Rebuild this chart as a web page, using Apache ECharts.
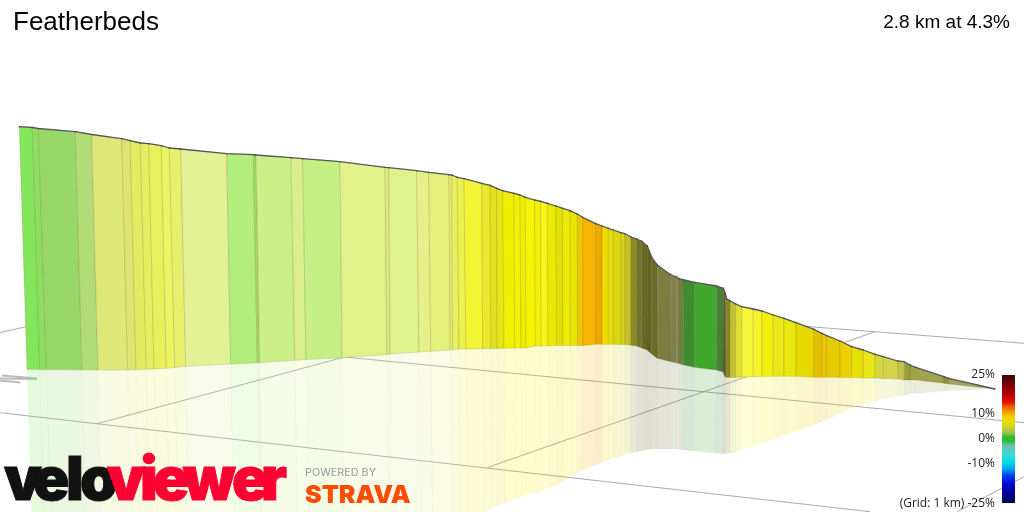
<!DOCTYPE html>
<html><head><meta charset="utf-8">
<style>html,body{margin:0;padding:0;background:#fff}#c{width:1024px;height:512px}</style>
<script src="https://cdn.jsdelivr.net/npm/echarts@6/dist/echarts.min.js"></script>
</head><body><div id="c"></div>
<script>
const topX=[19.3,32.3,38.3,75.3,91.7,121.7,130.3,140.3,148.7,161.3,169.3,180.7,226.7,253.3,256,291,302.7,340,385,388.7,416.7,428.7,449,451.7,457.3,464,481.7,490,496.7,502.7,514,520,525.3,534.7,540.7,547.3,556,562.7,570,577.3,582.7,595.7,602,608.3,613.3,621,625,631,636.7,641.7,647.3,651.7,657.3,670.3,676.7,679,684,694.7,716.7,723.3,725.3,726.7,730,735.7,741.7,753.3,762,773.3,784,796,814,821.7,826.7,840,851.7,863.3,875,883.3,897.7,904.3,910,915.7,944,948.7,995];
const topY=[126.7,127.5,128.5,131.7,134.5,138.7,140.7,143,143.7,145.7,148,149,153.7,154.7,155,157.7,158.7,161.7,167.3,167.7,170.7,172.3,174.7,175,177.3,178.7,183.3,185.3,188.3,190.7,193.3,195,197.3,200,201.3,203.3,206,208.3,210.7,214,217.3,223.7,226,228.3,230,232.7,233.7,237,239,241.3,246,257.3,265,274.5,277,278.7,280,282.3,286,288.3,293.3,299,300.7,304,306.7,309,311,315,318.3,322.7,329.3,333.3,335.7,341,346.7,350,354.3,356.7,361,361.7,365,367.3,376.7,378.3,389];
const baseX=[27,39.7,46.3,82,98,127.7,136,146.3,154,166.3,174.7,185.7,230.7,257.3,259.7,294.7,306,342,387,390,419,430.7,450.3,452.7,459,466,482.7,490.7,497.3,504,514.7,521,526,535.3,541.3,548,556.5,563,570.3,577.5,583,596,602,608.3,613.3,621,625,630.8,636.5,641.5,647,651.5,657,670,676.5,679,683.5,694.2,716.3,723,725,726.5,730,735.7,741.7,753.3,762,773.3,784,796,814,821.7,826.7,840,851.7,863.3,875,883.3,897.7,904.3,910,915.7,944,948.7,995];
const baseY=[369.3,369.5,369.6,369.8,370,370,369.5,369.2,369,368.3,367.5,366.3,364,362.8,362.5,360.3,359.5,357.7,354.5,354,352,351.3,350,349.5,349,349,348.7,348.5,348.5,348.3,348,348,348,346,346,345.7,345.5,345.5,345.5,345.5,345.5,344.3,344.3,344.3,344.3,344.5,344.5,345.3,346,348,350,354,358.3,361.5,363,363.6,365,367.3,370,372,376.7,377.5,377.5,377.5,377,376.7,376.5,376.3,376.3,376.3,377.3,377.3,377.3,377.4,377.5,378,378,378.5,379,380,380,380,383.3,384,389];
const mirrorY=[611,611,610,607,605,601,598,595,594,590,587,584,574,571,570,563,560,554,542,540,534,530,526,525,521,519,512,508,505,502,498,496,494,493,491,488,485,481,476,472,470,465,462,460,458,456,454,453,452,451,450,449,449,449,449,449.5,450,451,453,454,453.5,453.5,453.3,452,449,445.7,442.5,439,435,431,425,422,420,413,408,404,401,399,396,395,394,393.5,391,390.5,389];
const stripColors=['#84e65a','#8ce060','#98d868','#b2dc78','#dde878','#dfe470','#e2ec60','#e6ee62','#e8f05c','#eaf564','#e6f06c','#e2f096','#b2ee7a','#a0dc62','#cbf088','#daee90','#c6f084','#e2f28a','#dcec80','#e0f28c','#e6f088','#e4f07c','#e4ee6c','#e8f060','#ecf24c','#f2f434','#e8e82c','#dfe01e','#e6e614','#f0f000','#f0f200','#eeee00','#f6f400','#f2f008','#f6f618','#e8ea00','#e0e000','#ecec00','#e8e400','#ebc800','#f8b400','#eeaa00','#eedc00','#e8dc00','#d8d810','#d4d420','#c4c028','#8a8a28','#707428','#666a24','#5e6220','#6c6c28','#7a7e3e','#7e8050','#8a8a50','#6c8040','#3e8c30','#40a82c','#48803a','#585f2a','#6a6a24','#8a8a24','#c0c030','#e0e030','#f5f53a','#f4f428','#f0f00c','#e8e81a','#e8e810','#e6d800','#e4c000','#eec400','#e4cc00','#eed000','#e6e000','#e8e618','#d4d840','#d4d44c','#c4c44c','#9aa040','#a0a440','#9ea450','#8c9040','#a0a460'];
const gridLines=[[0,412.7,870,511.7],[0,332.7,26,326.7],[96,424,342,357.7],[487,467.7,875,331.7],[342,356.8,1024,422.7],[730,320.5,1024,343.3],[957,511.7,1024,476.7]];
const compassLines=[[2,375.5,37,378.5],[0,378.5,37,379],[0,380.5,20,382.5]];
const scaleLabels=['25%','10%','0%','-10%','(Grid: 1 km) -25%'];
const scaleLabelY=[375,414,439,464,504];
const scaleStops=[[0,'#3c0a0a'],[0.08,'#7a0000'],[0.145,'#b00000'],[0.21,'#e01000'],[0.25,'#f26000'],[0.29,'#f0a000'],[0.325,'#f0d000'],[0.365,'#e8e000'],[0.42,'#c8c840'],[0.455,'#90c050'],[0.49,'#20c020'],[0.52,'#30c040'],[0.55,'#70c0b0'],[0.615,'#40d8d8'],[0.68,'#00e0e0'],[0.73,'#00a8f0'],[0.785,'#0040f0'],[0.86,'#0000d0'],[0.925,'#000090'],[1,'#000050']];
const logoLetters=['v','e','l','o','v','i','e','w','e','r'];
const logoLeft=[4,33,66,80,107,140,153,183,232,261];
const logoFill=['#111','#111','#111','#111','#ff0033','#ff0033','#ff0033','#ff0033','#ff0033','#ff0033'];

function poly(api,pts,style){
  return {type:'polygon',shape:{points:pts.map(p=>api.coord(p))},style:style};
}
function mirrorXAt(i){
  const h=baseY[i]-topY[i];
  if(h<=0) return baseX[i];
  return baseX[i]+(baseX[i]-topX[i])*(mirrorY[i]-baseY[i])/h;
}
const rows=stripColors.map((c,i)=>[i]);
const chart=echarts.init(document.getElementById('c'),null,{renderer:'canvas'});
chart.setOption({
  animation:false,
  backgroundColor:'#fff',
  title:[
    {text:'Featherbeds',left:13,top:10,padding:0,textStyle:{fontFamily:'Liberation Sans',fontWeight:'normal',fontSize:26,color:'#000'}},
    {text:'2.8 km at 4.3%',right:14,top:13,padding:0,textStyle:{fontFamily:'Liberation Sans',fontWeight:'normal',fontSize:19,color:'#000'}}
  ],
  grid:{left:0,right:0,top:0,bottom:0},
  xAxis:{type:'value',min:0,max:1024,show:false},
  yAxis:{type:'value',min:0,max:512,inverse:true,show:false},
  series:[
    {type:'custom',coordinateSystem:'cartesian2d',z:1,silent:true,clip:true,data:gridLines,
      renderItem:(p,api)=>{const a=api.coord([api.value(0),api.value(1)]),b=api.coord([api.value(2),api.value(3)]);
        return {type:'line',shape:{x1:a[0],y1:a[1],x2:b[0],y2:b[1]},style:{stroke:'#aaaaaa',lineWidth:1}};}},
    {type:'custom',coordinateSystem:'cartesian2d',z:1,silent:true,clip:true,data:compassLines,
      renderItem:(p,api)=>{const a=api.coord([api.value(0),api.value(1)]),b=api.coord([api.value(2),api.value(3)]);
        return {type:'line',shape:{x1:a[0],y1:a[1],x2:b[0],y2:b[1]},style:{stroke:'#bbbbbb',lineWidth:2.2}};}},
    {type:'custom',coordinateSystem:'cartesian2d',z:2,silent:true,clip:true,data:rows,
      renderItem:(p,api)=>{const i=api.value(0),j=i+1;
        return poly(api,[[baseX[i],baseY[i]],[baseX[j],baseY[j]],[mirrorXAt(j),mirrorY[j]],[mirrorXAt(i),mirrorY[i]]],
          {fill:echarts.color.modifyAlpha(stripColors[i],0.2),stroke:echarts.color.modifyAlpha('#807850',0.015),lineWidth:1});}},
    {type:'custom',coordinateSystem:'cartesian2d',z:3,silent:true,clip:true,data:rows,
      renderItem:(p,api)=>{const i=api.value(0),j=i+1;
        return poly(api,[[topX[i],topY[i]],[topX[j],topY[j]],[baseX[j],baseY[j]],[baseX[i],baseY[i]]],
          {fill:stripColors[i],stroke:'rgba(90,80,20,0.17)',lineWidth:1});}},
    {type:'line',z:4,silent:true,data:topX.map((x,i)=>[x,topY[i]]),showSymbol:true,symbol:'circle',symbolSize:1.6,
      itemStyle:{color:'#444'},lineStyle:{color:'#5a5a5a',width:1.3}}
  ],
  graphic:[
    {type:'rect',z:10,shape:{x:1002,y:375,width:13,height:128},style:{fill:new echarts.graphic.LinearGradient(0,0,0,1,scaleStops.map(s=>({offset:s[0],color:s[1]})))}},
    ...scaleLabels.map((t,i)=>({type:'text',z:10,x:995,y:scaleLabelY[i],style:{text:t,align:'right',verticalAlign:'middle',font:'12px "Open Sans"',fill:'#222'}})),
    ...logoLetters.map((t,i)=>({type:'text',z:10,x:logoLeft[i],y:512,style:{text:t,verticalAlign:'bottom',font:'900 60px Inter',fill:logoFill[i],stroke:logoFill[i],lineWidth:1}})),
    {type:'text',z:10,x:305,y:473,scaleX:1.08,style:{text:'POWERED BY',verticalAlign:'middle',font:'10px Inter',fill:'#999'}},
    {type:'text',z:10,x:305,y:508,style:{text:'STRAVA',verticalAlign:'bottom',font:'900 25px Inter',fill:'#fc4c02'}}
  ]
});
</script></body></html>
